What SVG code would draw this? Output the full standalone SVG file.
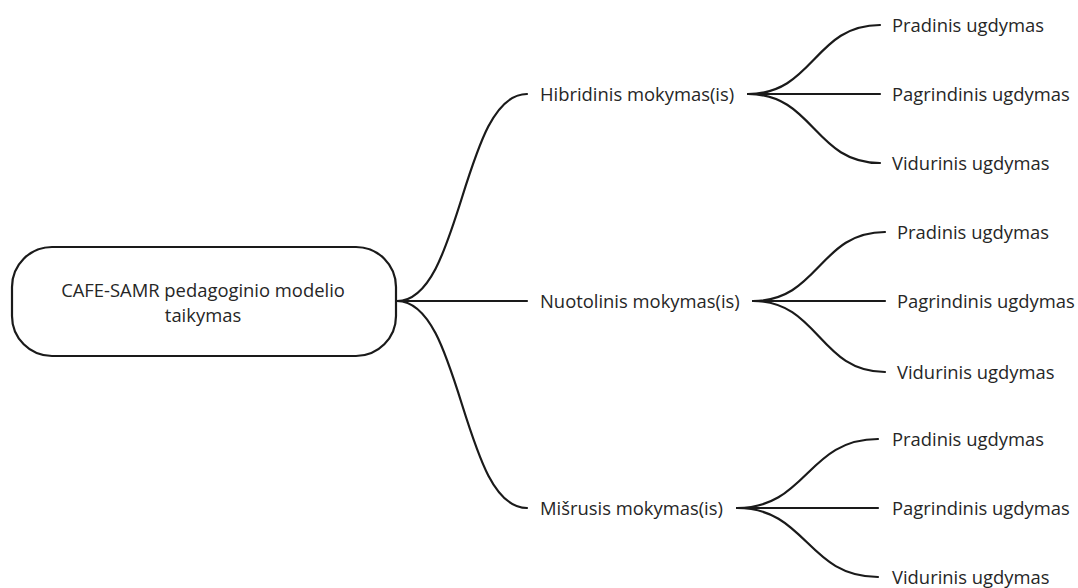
<svg xmlns="http://www.w3.org/2000/svg" width="1078" height="588" viewBox="0 0 1078 588">
  <style>
    .lbl { font-family: "Open Sans", "Noto Sans", "Liberation Sans", sans-serif; font-size: 18.4px; fill: #262626; }
    .edge { fill: none; stroke: #1a1a1a; stroke-width: 2.2; stroke-linecap: round; }
    .box { fill: #ffffff; stroke: #1a1a1a; stroke-width: 2.2; }
  </style>
  <rect width="1078" height="588" fill="#ffffff"/>

  <!-- connectors -->
  <g id="connectors">
    <!-- root to the three learning modes -->
    <path class="edge" d="M397 301 C462 301, 462 94, 527 94"/>
    <path class="edge" d="M397 301 L527 301"/>
    <path class="edge" d="M397 301 C462 301, 462 508, 527 508"/>
    <!-- Hibridinis -->
    <path class="edge" d="M748 94 C814 94, 814 25, 880 25"/>
    <path class="edge" d="M748 94 L880 94"/>
    <path class="edge" d="M748 94 C814 94, 814 163, 880 163"/>
    <!-- Nuotolinis -->
    <path class="edge" d="M753 301 C819 301, 819 232, 885 232"/>
    <path class="edge" d="M753 301 L885 301"/>
    <path class="edge" d="M753 301 C819 301, 819 372, 885 372"/>
    <!-- Mišrusis -->
    <path class="edge" d="M737 508 C807 508, 807 439, 878 439"/>
    <path class="edge" d="M737 508 L878 508"/>
    <path class="edge" d="M737 508 C807 508, 807 577, 878 577"/>
  </g>

  <g id="root">
    <rect class="box" x="12" y="247" width="384" height="109" rx="40" ry="40"/>
    <text class="lbl" x="203" y="297" text-anchor="middle">CAFE-SAMR pedagoginio modelio</text>
    <text class="lbl" x="203" y="322" text-anchor="middle">taikymas</text>
  </g>

  <g id="hibridinis"><text class="lbl" x="540" y="100.5">Hibridinis mokymas(is)</text></g>
  <g id="nuotolinis"><text class="lbl" x="540" y="307.5">Nuotolinis mokymas(is)</text></g>
  <g id="misrusis"><text class="lbl" x="540" y="514.5">Mišrusis mokymas(is)</text></g>

  <g id="hib-pradinis"><text class="lbl" x="892" y="31.5">Pradinis ugdymas</text></g>
  <g id="hib-pagrindinis"><text class="lbl" x="892" y="100.5">Pagrindinis ugdymas</text></g>
  <g id="hib-vidurinis"><text class="lbl" x="892" y="169.5">Vidurinis ugdymas</text></g>

  <g id="nuo-pradinis"><text class="lbl" x="897" y="238.5">Pradinis ugdymas</text></g>
  <g id="nuo-pagrindinis"><text class="lbl" x="897" y="307.5">Pagrindinis ugdymas</text></g>
  <g id="nuo-vidurinis"><text class="lbl" x="897" y="378.5">Vidurinis ugdymas</text></g>

  <g id="mis-pradinis"><text class="lbl" x="892" y="445.5">Pradinis ugdymas</text></g>
  <g id="mis-pagrindinis"><text class="lbl" x="892" y="514.5">Pagrindinis ugdymas</text></g>
  <g id="mis-vidurinis"><text class="lbl" x="892" y="583.5">Vidurinis ugdymas</text></g>
</svg>
